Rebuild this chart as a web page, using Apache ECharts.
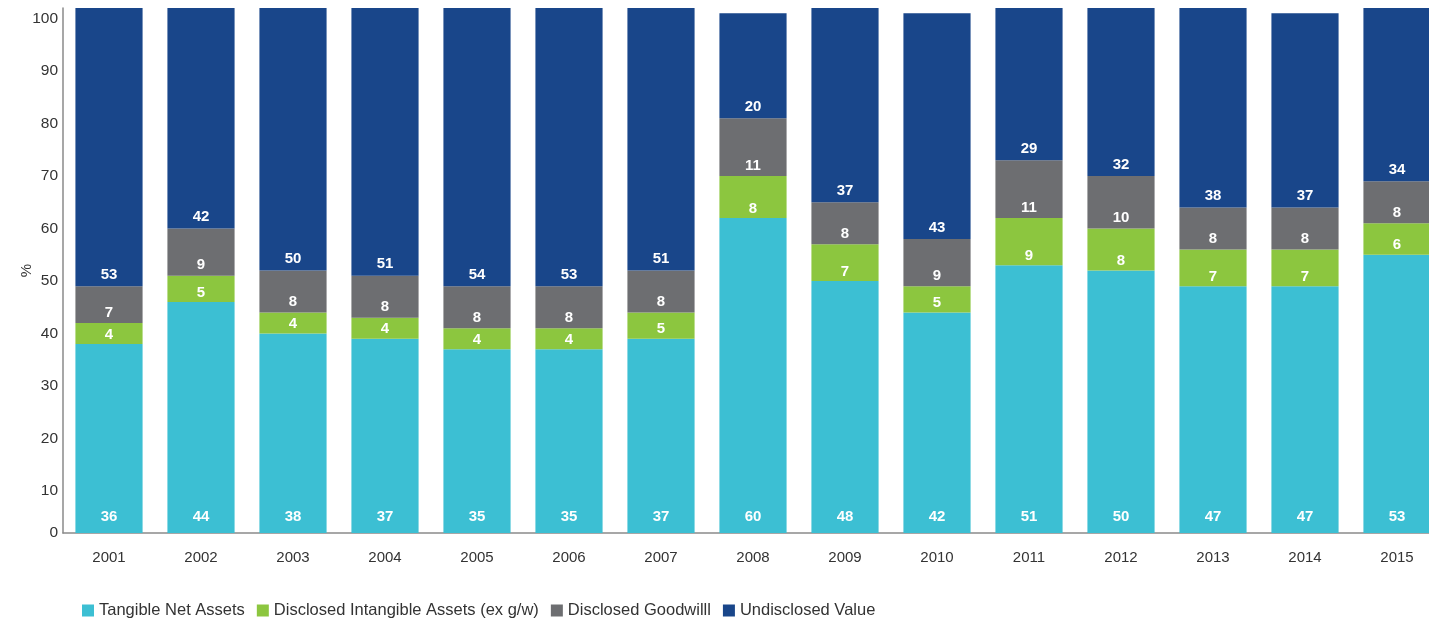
<!DOCTYPE html>
<html>
<head>
<meta charset="utf-8">
<script src="https://cdn.jsdelivr.net/npm/echarts@6/dist/echarts.min.js"></script>
<style>
  html, body { margin: 0; padding: 0; background: #ffffff; }
  #chart { width: 1429px; height: 620px; }
</style>
</head>
<body>
<div id="chart"></div>
<script>
// Composition of value by year, in percent
const years = ['2001','2002','2003','2004','2005','2006','2007','2008','2009','2010','2011','2012','2013','2014','2015'];
const tangibleNetAssets   = [36, 44, 38, 37, 35, 35, 37, 60, 48, 42, 51, 50, 47, 47, 53];
const intangibleAssets    = [4, 5, 4, 4, 4, 4, 5, 8, 7, 5, 9, 8, 7, 7, 6];
const disclosedGoodwill   = [7, 9, 8, 8, 8, 8, 8, 11, 8, 9, 11, 10, 8, 8, 8];
const undisclosedValue    = [53, 42, 50, 51, 54, 53, 51, 20, 37, 43, 29, 32, 38, 37, 34];
const seriesNames = ['Tangible Net Assets', 'Disclosed Intangible Assets (ex g/w)', 'Disclosed Goodwilll', 'Undisclosed Value'];

const colors = ['#3cbfd3', '#8cc63f', '#6d6e71', '#19468a'];
const FONT = '"Liberation Sans", Arial, Helvetica, sans-serif';

function barSeries(name, data, color, labelDistance) {
  return {
    name: name,
    type: 'bar',
    stack: 'total',
    data: data,
    barCategoryGap: '27%',
    itemStyle: { color: color },
    label: {
      show: true,
      position: 'insideBottom',
      distance: labelDistance,
      color: '#ffffff',
      fontFamily: FONT,
      fontWeight: 'bold',
      fontSize: 15
    },
    emphasis: { disabled: true }
  };
}

const chart = echarts.init(document.getElementById('chart'), null, { renderer: 'canvas' });
chart.setOption({
  animation: false,
  color: colors,
  textStyle: { fontFamily: FONT },
  grid: { left: 63, top: 8, width: 1380, bottom: 87, containLabel: false, outerBoundsMode: 'none' },
  legend: {
    left: 82,
    top: 602,
    padding: 0,
    itemWidth: 12,
    itemHeight: 12,
    itemGap: 12,
    icon: 'rect',
    textStyle: { color: '#333333', fontSize: 16.5, fontFamily: FONT },
    data: seriesNames
  },
  xAxis: {
    type: 'category',
    data: years,
    axisLine: { show: true, lineStyle: { color: '#8a8a8a', width: 1.5 } },
    axisTick: { show: false },
    axisLabel: { color: '#333333', fontSize: 15, fontFamily: FONT, margin: 17 }
  },
  yAxis: {
    type: 'value',
    min: 0,
    max: 100,
    interval: 10,
    name: '%',
    nameLocation: 'middle',
    nameGap: 29,
    nameRotate: 90,
    nameMoveOverlap: false,
    nameTextStyle: { color: '#333333', fontSize: 15, fontFamily: FONT },
    axisLine: { show: true, lineStyle: { color: '#8a8a8a', width: 1.5 } },
    axisTick: { show: false },
    splitLine: { show: false },
    axisLabel: {
      color: '#333333',
      fontSize: 15.5,
      fontFamily: FONT,
      margin: 5,
      // tick labels above zero sit a little below their ticks
      formatter: function (v) { return v === 0 ? '{z|0}' : '{t|' + v + '}'; },
      rich: {
        z: { color: '#333333', fontSize: 15.5, fontFamily: FONT },
        t: { color: '#333333', fontSize: 15.5, fontFamily: FONT, padding: [21, 0, 0, 0] }
      }
    }
  },
  series: [
    barSeries(seriesNames[0], tangibleNetAssets, colors[0], 9),
    barSeries(seriesNames[1], intangibleAssets, colors[1], 2),
    barSeries(seriesNames[2], disclosedGoodwill, colors[2], 3),
    barSeries(seriesNames[3], undisclosedValue, colors[3], 4)
  ]
});
</script>
</body>
</html>
